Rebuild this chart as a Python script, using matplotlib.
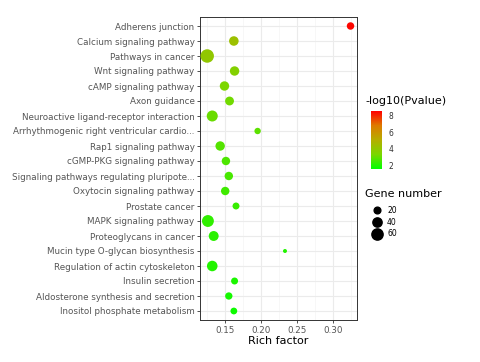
import matplotlib.pyplot as plt
import numpy as np
from matplotlib.colors import LinearSegmentedColormap
from matplotlib.lines import Line2D

pathways = [
    "Adherens junction", "Calcium signaling pathway", "Pathways in cancer",
    "Wnt signaling pathway", "cAMP signaling pathway", "Axon guidance",
    "Neuroactive ligand-receptor interaction",
    "Arrhythmogenic right ventricular cardio...", "Rap1 signaling pathway",
    "cGMP-PKG signaling pathway", "Signaling pathways regulating pluripote...",
    "Oxytocin signaling pathway", "Prostate cancer", "MAPK signaling pathway",
    "Proteoglycans in cancer", "Mucin type O-glycan biosynthesis",
    "Regulation of actin cytoskeleton", "Insulin secretion",
    "Aldosterone synthesis and secretion", "Inositol phosphate metabolism",
]
rich_factor = [0.324, 0.162, 0.125, 0.163, 0.149, 0.156, 0.132, 0.195, 0.143, 0.151,
               0.155, 0.150, 0.165, 0.126, 0.134, 0.233, 0.132, 0.163, 0.155, 0.162]
gene_number = [20, 34, 70, 33, 33, 29, 46, 14, 33, 26,
               26, 26, 17, 54, 37, 4, 42, 17, 19, 16]
neg_log_p = [8.4, 4.3, 4.0, 3.6, 3.4, 3.2, 3.1, 2.9, 2.8, 2.7,
             2.6, 2.5, 2.4, 2.3, 2.2, 2.1, 2.1, 2.0, 1.9, 1.8]
size_ticks = [20, 40, 60]
color_ticks = [2, 4, 6, 8]

cmap = LinearSegmentedColormap.from_list(
    "gr", ["#00FF00", "#7AD700", "#B5AE00", "#DE7A00", "#FF0000"])


def size_of(n):
    return 3 + np.array(n) * 1.3


fig = plt.figure(figsize=(4.8, 3.62), dpi=100)
ax = fig.add_axes([200 / 480, 1 - 320 / 362, 157 / 480, 303 / 362])

y = np.arange(len(pathways))[::-1]
sc = ax.scatter(rich_factor, y, s=size_of(gene_number), c=neg_log_p, cmap=cmap,
                vmin=1.6, vmax=8.5, zorder=3, linewidths=0)

ax.set_xlim(0.115, 0.333)
ax.set_ylim(-0.6, len(pathways) - 0.4)
ax.set_yticks(y)
ax.set_yticklabels(pathways)
ax.set_xticks([0.15, 0.20, 0.25, 0.30])
ax.set_xticklabels(["0.15", "0.20", "0.25", "0.30"])
ax.set_xticks([0.125, 0.175, 0.225, 0.275, 0.325], minor=True)
ax.grid(True, which="major", color="#EBEBEB", lw=0.8, zorder=0)
ax.grid(True, which="minor", axis="x", color="#F4F4F4", lw=0.5, zorder=0)
ax.tick_params(which="major", labelsize=6.3, colors="#333333", labelcolor="#555555",
               length=2.5, width=0.6, pad=1.5)
ax.tick_params(which="minor", length=0)
for s in ax.spines.values():
    s.set_color("#333333")
    s.set_linewidth(0.7)
ax.set_xlabel("Rich factor", fontsize=8, labelpad=1)

# colour bar
cax = fig.add_axes([371 / 480, 1 - 169 / 362, 11 / 480, 58 / 362])
cb = fig.colorbar(sc, cax=cax, ticks=color_ticks)
cb.outline.set_visible(False)
cb.ax.tick_params(labelsize=5.5, length=2, color="white", labelcolor="#333333", pad=3)
fig.text(365 / 480, 1 - 106 / 362, "-log10(Pvalue)", fontsize=8, va="bottom")

# size legend
fig.text(365 / 480, 1 - 199 / 362, "Gene number", fontsize=8, va="bottom")
handles = [Line2D([], [], ls="", marker="o", color="black",
                  markersize=np.sqrt(size_of(v)) * 0.9) for v in size_ticks]
leg = fig.legend(handles, [str(v) for v in size_ticks], loc="upper left",
                 bbox_to_anchor=(368 / 480, 1 - 203 / 362), frameon=False,
                 fontsize=5.5, handletextpad=0.6, labelspacing=0.35,
                 borderaxespad=0, handlelength=1.5)

fig.savefig("out.png", dpi=100)
